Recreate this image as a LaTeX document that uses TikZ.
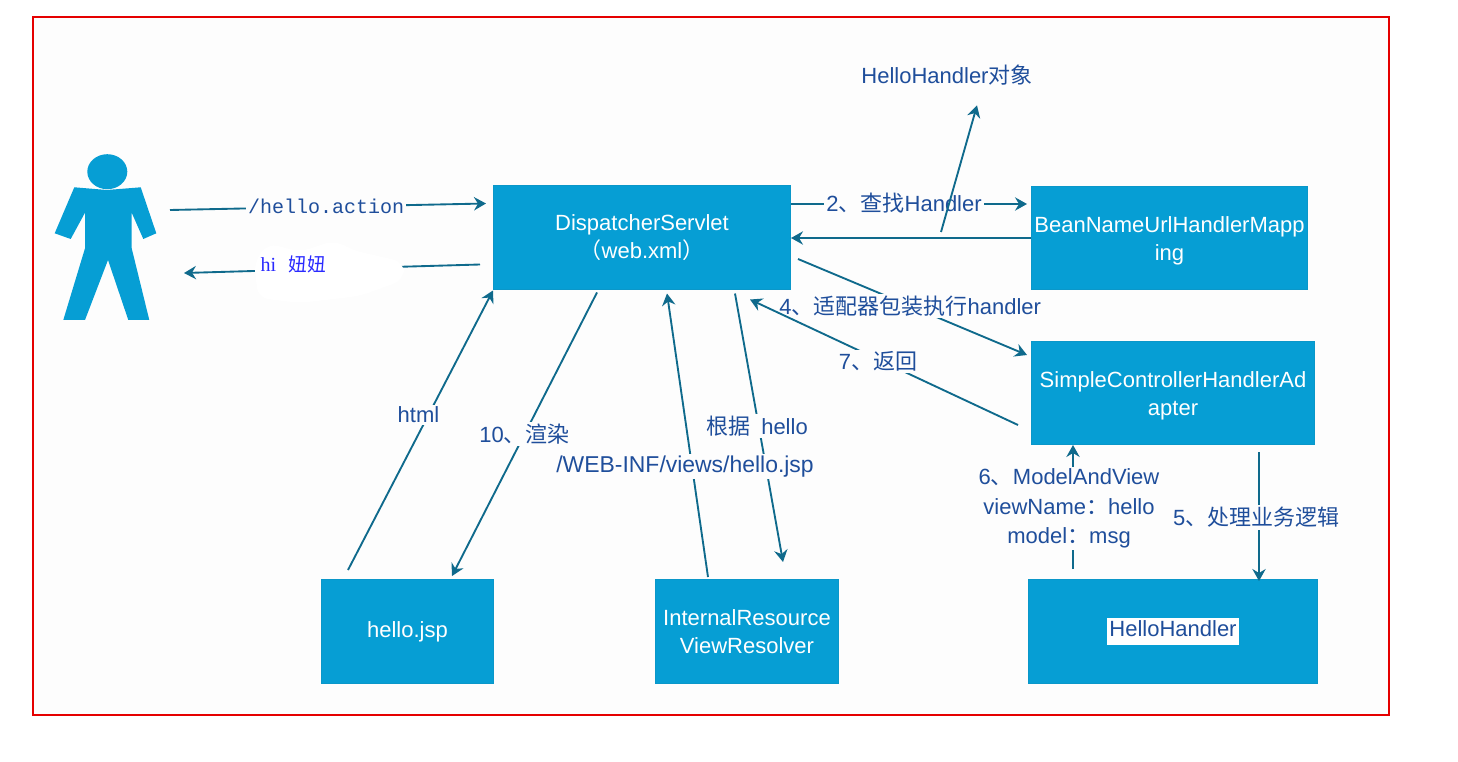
\documentclass[tikz,border=0pt]{standalone}
\usepackage{fontspec}
\setmainfont{Liberation Sans}
\newfontfamily\cjk{Noto Sans CJK SC}
\newfontfamily\monofnt{Liberation Mono}
\newfontfamily\seriffnt{Liberation Serif}
\usetikzlibrary{arrows.meta}

\definecolor{boxblue}{HTML}{069ED4}
\definecolor{boxedge}{HTML}{0A97C9}
\definecolor{arrowteal}{HTML}{0F6A8C}
\definecolor{labelblue}{HTML}{1F4E9B}
\definecolor{hiblue}{HTML}{2A2AFF}
\definecolor{paper}{HTML}{FDFDFD}
\newcommand{\zh}[1]{{\cjk #1}}
\newcommand{\topstrut}{\rule{0pt}{15.5pt}}
\def\px{0.75pt}

\begin{document}
\begin{tikzpicture}[
  x=0.75pt, y=-0.75pt,
  align=center,
  font=\fontsize{16.5}{21}\selectfont,
  box/.style={
    draw=boxedge, rectangle, line width=0.75pt, fill=boxblue,
    text=white, inner sep=0pt, anchor=center
  },
  arr/.style ={draw=arrowteal, -{Stealth[length=9pt, width=10pt, inset=3pt]}, line width=1.4pt},
  lbl/.style ={text=labelblue, fill=paper, inner sep=1.5pt},
]

\useasboundingbox (0,0) rectangle (1458,762);

%% ====================================================================
%%  FRAME
%% ====================================================================
\draw[draw=red!90!black, fill=paper, line width=1.5pt] (33,17) rectangle (1389,715);

%% ====================================================================
%%  USER FIGURE
%% ====================================================================
\fill[boxblue] (107.3,171.7) ellipse[x radius=20, y radius=17.5];
\fill[boxblue]
  (74.3,187.3) -- (107,190) -- (140.7,187.3) -- (156.3,233.3) -- (143.3,239)
  -- (131.7,212.7) -- (131.7,248.3) -- (149.3,320) -- (128.3,320) -- (108,260)
  -- (85,320) -- (63.3,320) -- (85,248.3) -- (85,212.7) -- (70.7,239)
  -- (54.7,233.3) -- cycle;
\coordinate (userOut) at (170,210);
\coordinate (userIn) at (184,273);

%% ====================================================================
%%  BLOCKS
%% ====================================================================
\node[box, minimum width=297*\px, minimum height=104*\px] (disp) at (642,238)
  {DispatcherServlet\\\zh{（}web.xml\zh{）}};
\node[box, minimum width=276*\px, minimum height=103*\px] (mapping) at (1169.5,238)
  {\topstrut BeanNameUrlHandlerMapp\\ing};
\node[box, minimum width=283*\px, minimum height=103*\px] (adapter) at (1173,393)
  {\topstrut SimpleControllerHandlerAd\\apter};
\node[box, minimum width=289*\px, minimum height=104*\px] (handler) at (1173,631.5)
  {\fboxsep=1.5pt\colorbox{white}{\rule[-5pt]{0pt}{17pt}\textcolor{labelblue}{HelloHandler}}};
\node[box, minimum width=172*\px, minimum height=104*\px] (jsp) at (407.5,631.5) {hello.jsp};
\node[box, minimum width=183*\px, minimum height=104*\px] (resolver) at (747,631.5)
  {InternalResource\\ViewResolver};

\node[text=labelblue, inner sep=0pt] (obj) at (947,75) {HelloHandler\zh{对象}};

%% ====================================================================
%%  USER <-> DISPATCHER
%% ====================================================================
\draw[arr] (userOut) -- node[lbl, pos=0.494, text=labelblue, font=\monofnt\fontsize{15}{18}\selectfont] (action) {/hello.action}
  ([xshift=-7*\px, yshift=34.5*\px]disp.west);
\draw[arr] ([xshift=-13*\px, yshift=-26.5*\px]disp.west) -- (userIn);

\fill[white, rounded corners=8pt] (254,262) -- (268,243) -- (300,252) -- (335,240) -- (352,250)
  -- (404,262) -- (404,280) -- (360,296) -- (300,303) -- (258,298) -- cycle;
\node[text=hiblue, inner sep=0pt] (hi) at (293.5,264)
  {\seriffnt\fontsize{15}{18}\selectfont hi\hspace{9.5pt}\zh{\fontsize{14}{18}\selectfont 妞妞}};

%% ====================================================================
%%  DISPATCHER <-> MAPPING
%% ====================================================================
\draw[arr] ([yshift=34*\px]disp.east) -- node[lbl, pos=0.479, yshift=1pt] (find) {2\zh{、查找}Handler}
  ([xshift=-4*\px, yshift=34*\px]mapping.west);
\draw[arr] (mapping.west) -- (disp.east);
\draw[arr] ([xshift=-90*\px, yshift=6*\px]mapping.west) -- ([xshift=30*\px, yshift=-20*\px]obj.south);

%% ====================================================================
%%  DISPATCHER <-> ADAPTER
%% ====================================================================
\draw[arr] ([xshift=7*\px, yshift=-21*\px]disp.east) -- node[lbl, pos=0.49] (wrap) {4\zh{、适配器包装执行}handler}
  ([xshift=-4*\px, yshift=38*\px]adapter.west);
\draw[arr] ([xshift=-13*\px, yshift=-32*\px]adapter.west) -- node[lbl, pos=0.522, yshift=-1.5pt] (back) {7\zh{、返回}}
  ([xshift=-41*\px, yshift=-9*\px]disp.south east);

%% ====================================================================
%%  ADAPTER <-> HANDLER
%% ====================================================================
\draw[arr] ([xshift=231*\px, yshift=0*\px]handler.north west |- adapter.south) ++(0,7) -- node[lbl, pos=0.5, xshift=-2pt, yshift=-0.75pt] (logic) {5\zh{、处理业务逻辑}}
  ([xshift=231*\px, yshift=-2*\px]handler.north west);
\draw[arr] ([xshift=45*\px, yshift=10*\px]handler.north west) -- node[lbl, pos=0.51, xshift=-3pt, yshift=-2pt, font=\fontsize{16.5}{22}\selectfont] (mav)
  {6\zh{、}ModelAndView\\viewName\zh{：}hello\\model\zh{：}msg}
  ([xshift=42*\px]adapter.south west);

%% ====================================================================
%%  DISPATCHER <-> JSP
%% ====================================================================
\draw[arr] ([xshift=27*\px, yshift=9*\px]jsp.north west) -- node[lbl, pos=0.555, xshift=-7.5pt] (html) {html}
  (disp.south west);
\draw[arr] ([xshift=104*\px, yshift=-2*\px]disp.south west) -- node[lbl, pos=0.5] (render) {10\zh{、渲染}}
  ([xshift=131*\px, yshift=3*\px]jsp.north west);

%% ====================================================================
%%  DISPATCHER <-> RESOLVER
%% ====================================================================
\draw[arr] ([xshift=53*\px, yshift=2*\px]resolver.north west) -- ([xshift=174*\px, yshift=-3*\px]disp.south west);
\draw[arr] ([xshift=242*\px, yshift=-3*\px]disp.south west) -- ([xshift=128*\px, yshift=17*\px]resolver.north west);
\node[lbl] (basis) at (757,426) {\zh{根据}\enspace hello};
\node[lbl, font=\fontsize{17.2}{21}\selectfont] (path) at (685,466.5) {/WEB-INF/views/hello.jsp};

\end{tikzpicture}
\end{document}
